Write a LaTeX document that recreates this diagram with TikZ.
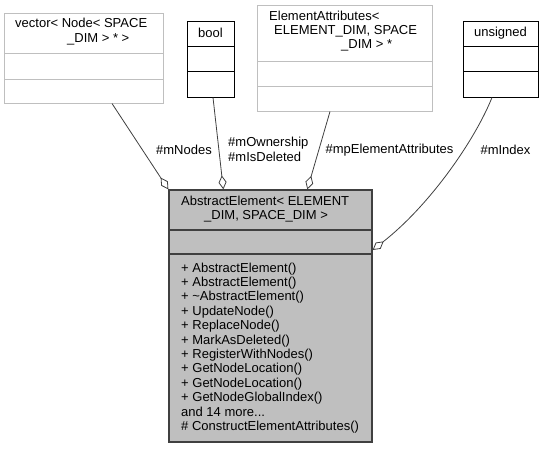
\documentclass[tikz,border=0pt]{standalone}
\usepackage{fontspec}
\setmainfont{Liberation Sans}
\usetikzlibrary{arrows.meta}
\definecolor{boxgray}{HTML}{BFBFBF}
\definecolor{edgegray}{HTML}{404040}
\begin{document}
\begin{tikzpicture}[x=1pt,y=-1pt,
  font=\fontsize{13}{14.4}\selectfont,
  lightbox/.style={draw=boxgray, fill=white, line width=1pt, inner sep=0pt},
  darkbox/.style={draw=black, fill=white, line width=1pt, inner sep=0pt},
  mainbox/.style={draw=edgegray, fill=boxgray, line width=1.3pt, inner sep=0pt},
  lightdiv/.style={draw=boxgray, line width=1pt},
  darkdiv/.style={draw=black, line width=1pt},
  maindiv/.style={draw=edgegray, line width=1.3pt},
  txt/.style={inner sep=0pt, align=left, anchor=west},
  lbl/.style={inner sep=0pt},
  conn/.style={draw=edgegray, line width=0.8pt, -{Diamond[open, length=14pt, width=8pt, fill=white]}}
]
\useasboundingbox (0,0) rectangle (543,448);

% boxes
\node[lightbox, minimum width=159pt, minimum height=90pt] (vec) at (83.5,58) {};
\node[darkbox, minimum width=47pt, minimum height=76pt] (bool) at (210.5,59) {};
\node[lightbox, minimum width=175pt, minimum height=106pt] (ea) at (344.5,58) {};
\node[darkbox, minimum width=75pt, minimum height=76pt] (uns) at (500.5,59) {};
\node[mainbox, minimum width=203pt, minimum height=252pt] (main) at (270.5,316) {};

% dividers
\draw[lightdiv] (4,53) -- (163,53) (4,79) -- (163,79);
\draw[darkdiv] (187,46) -- (234,46) (187,71) -- (234,71);
\draw[lightdiv] (257,61) -- (432,61) (257,86) -- (432,86);
\draw[darkdiv] (463,46) -- (538,46) (463,71) -- (538,71);
\draw[maindiv] (169,230) -- (372,230) (169,254) -- (372,254);

% titles
\node[txt] (vect) at (15,31.5) {vector< Node< SPACE\\\hspace*{52pt}\_DIM > * >};
\node[lbl] (boolt) at (210.5,33) {bool};
\node[txt] (eat) at (269,31) {ElementAttributes<\\\hspace*{5pt}ELEMENT\_DIM, SPACE\\\hspace*{72pt}\_DIM > *};
\node[lbl] (unst) at (500.5,33) {unsigned};
\node[txt] (maint) at (181,209) {AbstractElement< ELEMENT\\\hspace*{23pt}\_DIM, SPACE\_DIM >};
\node[txt] (mainm) at (181,348) {+ AbstractElement()\\+ AbstractElement()\\+ \textasciitilde AbstractElement()\\+ UpdateNode()\\+ ReplaceNode()\\+ MarkAsDeleted()\\+ RegisterWithNodes()\\+ GetNodeLocation()\\+ GetNodeLocation()\\+ GetNodeGlobalIndex()\\and 14 more...\\\# ConstructElementAttributes()};

% connectors
\draw[conn] ([xshift=28.5pt]vec.south) -- (main.north west);
\draw[conn] ([xshift=2.5pt]bool.south) -- ([xshift=55pt]main.north west);
\draw[conn] ([xshift=-14.5pt]ea.south) -- ([xshift=139pt]main.north west);
\draw[conn] ([xshift=-8.5pt]uns.south) .. controls (475,140) and (430,205) .. ([yshift=66pt]main.east);

% edge labels
\node[lbl] (lnodes) at (184,150) {\#mNodes};
\node[txt] (lown) at (228,149.5) {\#mOwnership\\\#mIsDeleted};
\node[lbl] (lea) at (389.5,150) {\#mpElementAttributes};
\node[lbl] (lidx) at (505.5,150) {\#mIndex};
\end{tikzpicture}
\end{document}
